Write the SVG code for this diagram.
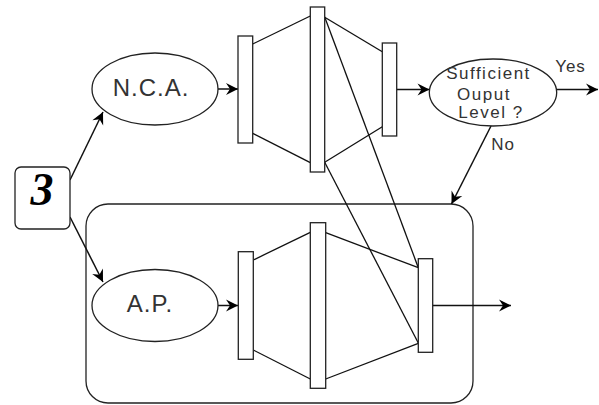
<svg xmlns="http://www.w3.org/2000/svg" width="599" height="405" viewBox="0 0 599 405">
  <defs>
    <marker id="ah" viewBox="-13 -7 14 14" refX="0" refY="0" markerWidth="14" markerHeight="14" markerUnits="userSpaceOnUse" orient="auto">
      <path d="M0,0 L-12,-6 L-8,0 L-12,6 Z" fill="#000"/>
    </marker>
    <style>
      .ln { stroke: #111; stroke-width: 1.3; fill: none; }
      .arr { stroke: #111; stroke-width: 1.5; fill: none; marker-end: url(#ah); }
      .box { stroke: #222; stroke-width: 1.3; fill: #fff; }
      .lbl { font-family: "Liberation Sans", "DejaVu Sans", sans-serif; fill: #333; text-anchor: middle; }
      .big { font-size: 24px; letter-spacing: 1px; }
      .mid { font-size: 17px; letter-spacing: 1.5px; }
      .edge { font-size: 17px; letter-spacing: 1px; }
    </style>
  </defs>
  <rect width="599" height="405" fill="#fff"/>

  <!-- container around the second chain -->
  <g id="container">
    <rect x="86" y="204" width="387" height="199" rx="22" ry="22" class="box" fill="none"/>
  </g>

  <!-- connectors -->
  <g id="connectors">
    <!-- fan lines of the upper chain -->
    <line class="ln" x1="252.7" y1="44" x2="310.3" y2="16"/>
    <line class="ln" x1="252.7" y1="133.3" x2="310.3" y2="162.7"/>
    <line class="ln" x1="324.7" y1="17.3" x2="382.3" y2="51.7"/>
    <line class="ln" x1="324.7" y1="162.3" x2="382.3" y2="126.7"/>
    <!-- cross links into the lower chain -->
    <line class="ln" x1="324.7" y1="17" x2="418.3" y2="267.7"/>
    <line class="ln" x1="324.7" y1="162.3" x2="418.3" y2="343"/>
    <!-- fan lines of the lower chain -->
    <line class="ln" x1="253.3" y1="260" x2="310.3" y2="232.3"/>
    <line class="ln" x1="253.3" y1="350" x2="310.3" y2="379"/>
    <line class="ln" x1="325.7" y1="232.7" x2="418.3" y2="267.7"/>
    <line class="ln" x1="325.7" y1="379" x2="418.3" y2="343.3"/>
    <!-- arrows -->
    <line class="arr" x1="70" y1="180" x2="103" y2="112"/>
    <line class="arr" x1="70" y1="217" x2="103" y2="282"/>
    <line class="arr" x1="218" y1="89" x2="238" y2="89"/>
    <line class="arr" x1="218" y1="305.5" x2="238" y2="305.5"/>
    <line class="arr" x1="396.7" y1="89.5" x2="429.5" y2="89.5"/>
    <line class="arr" x1="556.7" y1="89.5" x2="598" y2="89.5"/>
    <line class="arr" x1="491" y1="126" x2="451.5" y2="204"/>
    <line class="arr" x1="432.7" y1="305.5" x2="511" y2="305.5"/>
    <text class="lbl edge" x="570.5" y="72.3">Yes</text>
    <text class="lbl edge" x="503" y="150">No</text>
  </g>

  <!-- step number -->
  <g id="step">
    <rect x="15" y="167" width="55" height="62" rx="6" ry="6" class="box"/>
    <text x="42" y="205" font-family="Liberation Serif, serif" font-size="46" font-weight="bold" font-style="italic" text-anchor="middle" fill="#000">3</text>
  </g>

  <!-- upper chain -->
  <g id="nca">
    <ellipse cx="155" cy="89" rx="63" ry="36" class="box"/>
    <text class="lbl big" x="151" y="96">N.C.A.</text>
  </g>
  <g id="top-stage1"><rect x="238" y="36" width="14.7" height="107" class="box"/></g>
  <g id="top-stage2"><rect x="310.3" y="7" width="14.4" height="165" class="box"/></g>
  <g id="top-stage3"><rect x="382.3" y="43" width="14.4" height="93" class="box"/></g>

  <!-- decision -->
  <g id="decision">
    <ellipse cx="493" cy="92.5" rx="63.7" ry="33.5" class="box"/>
    <text class="lbl mid" x="488.5" y="79.3">Sufficient</text>
    <text class="lbl mid" x="484" y="99.5">Ouput</text>
    <text class="lbl mid" x="491" y="118">Level ?</text>
  </g>

  <!-- lower chain -->
  <g id="ap">
    <ellipse cx="155" cy="305.5" rx="63" ry="36" class="box"/>
    <text class="lbl big" x="150" y="312">A.P.</text>
  </g>
  <g id="bottom-stage1"><rect x="238.3" y="251.7" width="15" height="107.6" class="box"/></g>
  <g id="bottom-stage2"><rect x="310.3" y="222.7" width="15.4" height="165.6" class="box"/></g>
  <g id="bottom-stage3"><rect x="418.3" y="258.7" width="14.4" height="93.6" class="box"/></g>
</svg>
